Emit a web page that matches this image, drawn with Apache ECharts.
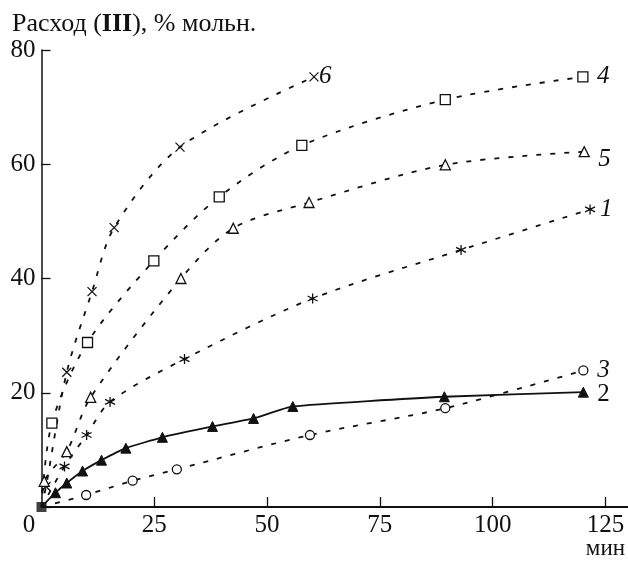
<!DOCTYPE html>
<html>
<head>
<meta charset="utf-8">
<script src="https://cdn.jsdelivr.net/npm/echarts@6/dist/echarts.min.js"></script>
<style>html,body{margin:0;padding:0;background:#fff}#c{width:628px;height:563px}</style>
</head>
<body>
<div id="c"></div>
<script>
var xTicks = [0, 25, 50, 75, 100, 125];
var yTicks = [0, 20, 40, 60, 80];
var origin = [[0, 0]];
// curve 1 (asterisks)
var s1 = [[0,0],[5.1,7.1],[10,12.6],[15.2,18.4],[31.7,25.9],[60.1,36.5],[93,45],[121.6,52.1]];
// curve 2 (filled triangles, solid)
var s2 = [[0,0],[3.1,2.5],[5.6,4.2],[9.1,6.3],[13.3,8.2],[18.7,10.3],[26.8,12.2],[37.9,14.1],[47,15.5],[55.7,17.6],[89.3,19.3],[120.1,20.1]];
// curve 3 (open circles)
var s3 = [[0,0],[9.9,2.1],[20.2,4.6],[30,6.6],[59.5,12.6],[89.5,17.3],[120.1,23.9]];
// curve 4 (open squares)
var s4 = [[0,0],[2.3,14.7],[10.2,28.8],[24.9,43.1],[39.4,54.3],[57.7,63.3],[89.5,71.3],[120,75.3]];
// curve 5 (open triangles)
var s5 = [[0,0],[0.6,4.5],[5.6,9.7],[10.9,19.2],[30.9,40],[42.5,48.8],[59.3,53.3],[89.5,59.9],[120.3,62.2]];
// curve 6 (crosses)
var s6 = [[0,0],[1,3.6],[5.6,23.6],[11.2,37.7],[16.1,48.9],[30.7,63],[60.4,75.3]];

var SERIF = '"Liberation Serif","DejaVu Serif",serif';
var CROSS = 'path://M0,0L10,10M10,0L0,10';
var STAR = 'path://M5,0L5,10M0.67,2.5L9.33,7.5M0.67,7.5L9.33,2.5';

function firstNone(arr) {
  return arr.map(function (p, i) {
    return i === 0 ? { value: p, symbol: 'none' } : p;
  });
}
function dashed(name, data, symbol, size, open, lbl) {
  return {
    type: 'line', name: name, data: firstNone(data),
    smooth: 0.3, symbol: symbol, symbolSize: size,
    lineStyle: { color: '#111', width: 1.8, type: [5, 9] },
    itemStyle: { color: open === 'fill' ? '#111' : (open === 'none' ? 'none' : '#fff'), borderColor: '#111', borderWidth: 1.3 },
    endLabel: {
      show: true, formatter: name, color: '#111',
      fontFamily: SERIF, fontSize: 25, fontStyle: lbl.italic ? 'italic' : 'normal',
      distance: lbl.d, offset: lbl.off
    },
    z: 3
  };
}

var chart = echarts.init(document.getElementById('c'), null, { renderer: 'canvas' });
chart.setOption({
  animation: false,
  backgroundColor: '#fff',
  title: {
    text: 'Расход ({b|III}), % мольн.',
    left: 12, top: 11, padding: 0,
    textStyle: {
      fontFamily: SERIF, fontSize: 26, fontWeight: 'normal', color: '#111',
      rich: { b: { fontFamily: SERIF, fontSize: 26, fontWeight: 'bold', color: '#111' } }
    }
  },
  grid: { left: 41.5, right: 0, top: 50, bottom: 56, containLabel: false },
  xAxis: {
    type: 'value', min: 0, max: 130, interval: 25,
    axisLine: { show: true, lineStyle: { color: '#111', width: 2 } },
    axisTick: { show: true, inside: true, length: 10, customValues: xTicks.slice(1), lineStyle: { color: '#111', width: 1.3 } },
    axisLabel: {
      customValues: xTicks, margin: 6, color: '#111', fontFamily: SERIF, fontSize: 25,
      formatter: function (v) { return v === 0 ? '{z|0}' : String(v); },
      rich: { z: { fontFamily: SERIF, fontSize: 25, color: '#111', padding: [0, 25, 0, 0] } }
    },
    splitLine: { show: false }
  },
  yAxis: {
    type: 'value', min: 0, max: 80, interval: 20,
    axisLine: { show: true, lineStyle: { color: '#111', width: 1.5 } },
    axisTick: { show: true, inside: true, length: 9, lineStyle: { color: '#111', width: 1.3 } },
    axisLabel: {
      margin: 6, color: '#111', fontFamily: SERIF, fontSize: 25,
      formatter: function (v) { return v === 0 ? '' : String(v); }
    },
    splitLine: { show: false }
  },
  graphic: [{
    type: 'text', right: 3, bottom: 3,
    style: { text: 'мин', fontFamily: SERIF, fontSize: 23, fill: '#111' }
  }],
  series: [
    dashed('6', s6, CROSS, 9, 'none', { italic: true, d: 5, off: [0, 0] }),
    dashed('4', s4, 'rect', 10, 'open', { italic: true, d: 14, off: [0, 0] }),
    dashed('5', s5, 'triangle', 10, 'open', { italic: true, d: 14, off: [0, 8] }),
    dashed('1', s1, STAR, 10, 'none', { italic: true, d: 10, off: [0, 0] }),
    dashed('3', s3, 'circle', 9, 'open', { italic: true, d: 14, off: [0, 0] }),
    {
      type: 'line', name: '2', data: firstNone(s2), smooth: 0.15,
      symbol: 'triangle', symbolSize: 10,
      lineStyle: { color: '#111', width: 1.8 },
      itemStyle: { color: '#111', borderColor: '#111', borderWidth: 1 },
      endLabel: { show: true, formatter: '2', color: '#111', fontFamily: SERIF, fontSize: 25, distance: 14, offset: [0, 2] },
      z: 4
    },
    {
      type: 'scatter', name: 'origin', data: origin, symbol: 'rect', symbolSize: 10,
      itemStyle: { color: '#111' }, z: 5
    }
  ]
});
</script>
</body>
</html>
